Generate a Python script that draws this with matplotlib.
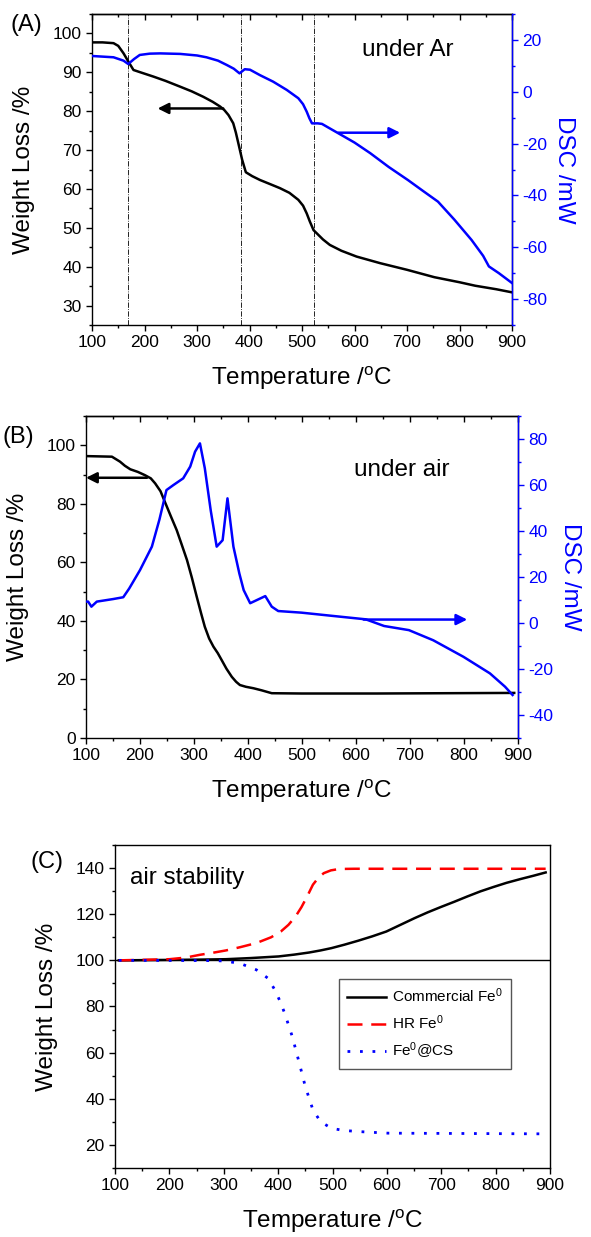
import matplotlib
matplotlib.use("Agg")
import matplotlib.pyplot as plt
from matplotlib.ticker import MultipleLocator

plt.rcParams.update({
    "font.family": ["Liberation Sans", "DejaVu Sans"],
    "mathtext.fontset": "custom",
    "mathtext.rm": "Liberation Sans",
    "mathtext.it": "Liberation Sans:italic",
    "axes.unicode_minus": False,
    "axes.linewidth": 1.0,
})

BLUE = "#0000ff"

# (A) under Ar
ar_tga_t = [100, 120, 141, 150, 160, 170, 179, 190, 217, 240, 268, 290, 312, 330, 344,
            352, 360, 369, 374, 379, 386, 393, 405, 420, 440, 458, 476, 493, 502, 509,
            515, 522, 531, 540, 553, 575, 604, 649, 700, 752, 800, 830, 870, 900]
ar_tga_w = [97.7, 97.7, 97.5, 96.8, 94.9, 92.6, 90.6, 90.1, 88.9, 87.8, 86.3, 85.1, 83.7,
            82.4, 81.2, 80.3, 79.0, 76.9, 74.5, 71.6, 67.5, 64.3, 63.3, 62.3, 61.2, 60.2,
            59.0, 57.2, 55.7, 53.7, 51.6, 49.4, 48.2, 47.0, 45.6, 44.1, 42.6, 40.9, 39.2,
            37.3, 36.0, 35.1, 34.2, 33.4]
ar_dsc_t = [100, 141, 160, 169, 180, 191, 210, 230, 268, 300, 318, 340, 357, 370, 381,
            391, 401, 420, 445, 471, 493, 502, 509, 514, 519, 530, 538, 550, 569, 600,
            630, 665, 702, 730, 759, 790, 823, 845, 856, 875, 900]
ar_dsc_v = [13.8, 13.3, 12.0, 10.7, 12.6, 14.2, 14.7, 14.8, 14.6, 14.0, 13.3, 12.0, 10.3,
            8.9, 7.1, 8.7, 8.5, 6.4, 3.9, 0.7, -2.5, -4.8, -7.7, -10.2, -12.2, -12.2, -12.4,
            -13.8, -16.0, -19.6, -23.7, -29.0, -34.1, -38.2, -42.4, -49.3, -57.2, -63.3,
            -67.4, -70.0, -73.8]
ar_events = [169, 383, 522]

# (B) under air
air_tga_t = [101, 148, 163, 172, 182, 196, 209, 220, 228, 238, 246, 257, 268, 277, 287,
             296, 305, 313, 320, 328, 336, 344, 351, 360, 370, 378, 385, 396, 410, 425,
             444, 499, 639, 893]
air_tga_w = [96.3, 96.1, 94.4, 93.0, 91.8, 90.9, 89.8, 88.7, 87.0, 84.3, 80.7, 75.8, 71.0,
             66.2, 60.8, 54.8, 48.3, 42.7, 38.0, 34.0, 31.2, 29.0, 26.7, 23.7, 20.9, 19.2,
             18.1, 17.5, 17.0, 16.3, 15.3, 15.2, 15.2, 15.4]
air_dsc_t = [100, 104, 110, 120, 150, 169, 180, 200, 222, 236, 249, 262, 280, 293, 302,
             311, 320, 331, 342, 353, 362, 373, 384, 392, 404, 432, 444, 456, 499, 552,
             618, 652, 698, 743, 799, 848, 876, 890]
air_dsc_v = [9.3, 9.3, 7.1, 9.3, 10.4, 11.2, 15.0, 23.0, 33.2, 45.0, 57.8, 60.0, 62.9,
             68.0, 74.5, 78.1, 67.3, 48.9, 33.2, 36.0, 54.2, 33.2, 21.5, 14.3, 8.6, 11.7,
             7.1, 5.2, 4.5, 3.2, 1.6, -1.3, -3.1, -7.5, -14.7, -21.9, -27.7, -31.3]

# (C) air stability
comm_t = [107, 250, 304, 350, 401, 430, 457, 478, 498, 522, 547, 573, 599, 625, 651, 675,
          699, 724, 748, 772, 796, 820, 845, 870, 892]
comm_w = [100.0, 100.3, 100.5, 101.0, 101.7, 102.5, 103.4, 104.3, 105.3, 106.8, 108.5,
          110.4, 112.5, 115.4, 118.3, 120.8, 123.1, 125.4, 127.7, 129.9, 131.8, 133.6,
          135.2, 136.7, 138.1]
hr_t = [107, 200, 230, 256, 280, 304, 330, 360, 387, 405, 419, 432, 443, 454, 464, 474,
        484, 497, 512, 540, 581, 892]
hr_w = [100.0, 100.5, 101.2, 102.4, 103.3, 104.3, 105.7, 107.5, 110.0, 112.5, 115.4,
        119.0, 123.1, 128.0, 132.8, 135.8, 137.8, 139.0, 139.6, 139.7, 139.7, 139.7]
cs_t = [107, 280, 304, 332, 360, 381, 394, 404, 412, 426, 439, 450, 464, 478, 498, 520,
        547, 602, 892]
cs_w = [100.0, 99.9, 99.7, 98.5, 95.9, 92.3, 87.2, 82.0, 77.1, 67.0, 55.4, 45.3, 35.2,
        30.1, 27.2, 26.3, 25.8, 25.1, 24.8]

XLABEL = r"Temperature /$^\mathregular{o}$C"
W, H = 591, 1237


def frame(left, right, top, bottom):
    return [left / W, 1 - bottom / H, (right - left) / W, (bottom - top) / H]


def style_left(ax, ymajor, yminor, top_ticks=True):
    ax.set_xlim(100, 900)
    ax.xaxis.set_major_locator(MultipleLocator(100))
    ax.xaxis.set_minor_locator(MultipleLocator(50))
    ax.yaxis.set_major_locator(MultipleLocator(ymajor))
    ax.yaxis.set_minor_locator(MultipleLocator(yminor))
    ax.tick_params(which="both", direction="out", labelsize=12.5, pad=3, width=1)
    ax.tick_params(which="major", length=4.5)
    ax.tick_params(which="minor", length=2.5)
    if top_ticks:
        sec = ax.secondary_xaxis("top")
        sec.xaxis.set_major_locator(MultipleLocator(100))
        sec.xaxis.set_minor_locator(MultipleLocator(50))
        sec.tick_params(which="both", direction="in", labeltop=False, width=1)
        sec.tick_params(which="major", length=4.5)
        sec.tick_params(which="minor", length=2.5)
    ax.set_xlabel(XLABEL, fontsize=17.5, labelpad=10)
    ax.set_ylabel("Weight Loss /%", fontsize=17.5, labelpad=13)


def style_right(ax2, ymajor, yminor):
    for side in ("left", "top", "bottom"):
        ax2.spines[side].set_visible(False)
    ax2.spines["right"].set_color(BLUE)
    ax2.yaxis.set_major_locator(MultipleLocator(ymajor))
    ax2.yaxis.set_minor_locator(MultipleLocator(yminor))
    ax2.tick_params(which="both", direction="out", colors=BLUE, labelsize=12.5,
                    pad=3, width=1)
    ax2.tick_params(which="major", length=4.5)
    ax2.tick_params(which="minor", length=2.5)
    ax2.set_ylabel("DSC /mW", fontsize=17.5, color=BLUE, rotation=270, labelpad=20)


def arrow(ax, x0, x1, y, color):
    ax.annotate("", xy=(x1, y), xytext=(x0, y),
                arrowprops=dict(arrowstyle="-|>", color=color, lw=1.8,
                                mutation_scale=16, shrinkA=0, shrinkB=0))


fig = plt.figure(figsize=(W / 100, H / 100), dpi=100)

# ---- (A)
axA = fig.add_axes(frame(92, 512, 14, 325))
axA.plot(ar_tga_t, ar_tga_w, color="black", lw=1.8)
axA.set_ylim(25, 105)
for t in ar_events:
    axA.axvline(t, color="black", lw=0.6, linestyle="-.")
style_left(axA, 10, 5)
axA.text(702, 95.7, "under Ar", fontsize=17.5, ha="center", va="center")
arrow(axA, 350, 225, 80.7, "black")
axA2 = axA.twinx()
axA2.plot(ar_dsc_t, ar_dsc_v, color=BLUE, lw=1.8)
axA2.set_ylim(-90, 30)
style_right(axA2, 20, 10)
arrow(axA2, 569, 687, -15.8, BLUE)

# ---- (B)
axB = fig.add_axes(frame(86, 518, 416, 738))
axB.plot(air_tga_t, air_tga_w, color="black", lw=1.8)
axB.set_ylim(0, 110)
style_left(axB, 20, 10)
axB.text(685, 91.5, "under air", fontsize=17.5, ha="center", va="center")
arrow(axB, 213, 100, 88.9, "black")
axB2 = axB.twinx()
axB2.plot(air_dsc_t, air_dsc_v, color=BLUE, lw=1.8)
axB2.set_ylim(-50, 90)
style_right(axB2, 20, 10)
arrow(axB2, 614, 806, 1.5, BLUE)

# ---- (C)
axC = fig.add_axes(frame(115, 550, 845, 1168))
axC.axhline(100, color="black", lw=1.0)
axC.plot(comm_t, comm_w, color="black", lw=1.8, label=r"Commercial Fe$^\mathregular{0}$")
axC.plot(hr_t, hr_w, color="#ff0000", lw=1.8, linestyle=(0, (6, 3.5)),
         label=r"HR Fe$^\mathregular{0}$")
axC.plot(cs_t, cs_w, color=BLUE, lw=2.0, linestyle=(0, (1, 3.5)),
         label=r"Fe$^\mathregular{0}$@CS")
axC.set_ylim(10, 150)
style_left(axC, 20, 10, top_ticks=False)
axC.text(128, 135.7, "air stability", fontsize=17.5, ha="left", va="center")
leg = axC.legend(loc="upper left", bbox_to_anchor=(0.515, 0.585), fontsize=11,
                 frameon=True, fancybox=False, edgecolor="#555555", framealpha=1,
                 handlelength=2.6, borderpad=0.5, labelspacing=0.55, handletextpad=0.4,
                 borderaxespad=0)
leg.get_frame().set_linewidth(1.0)

fig.text(26 / W, 1 - 25 / H, "(A)", fontsize=17, ha="center", va="center")
fig.text(18 / W, 1 - 437 / H, "(B)", fontsize=17, ha="center", va="center")
fig.text(47 / W, 1 - 862 / H, "(C)", fontsize=17, ha="center", va="center")

fig.savefig("out.png", dpi=100)
